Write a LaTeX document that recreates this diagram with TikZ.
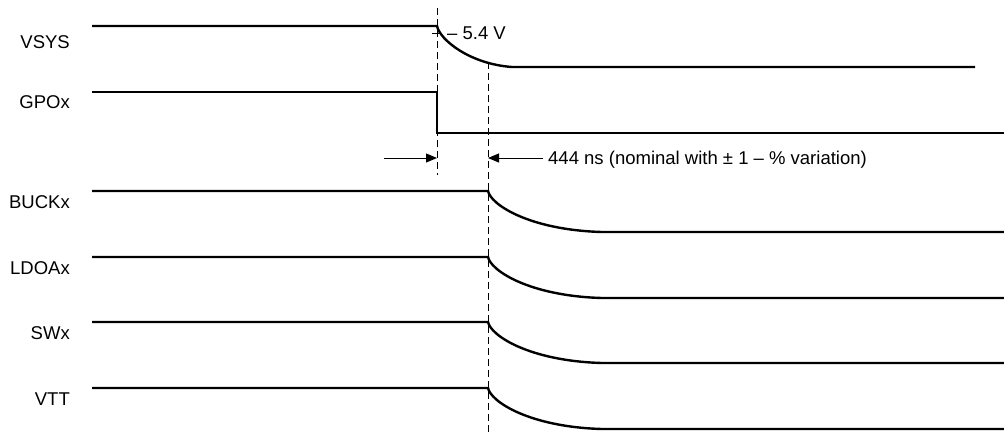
\documentclass[tikz,border=0pt]{standalone}
\usepackage{fontspec}
\setmainfont{Liberation Sans}
\usetikzlibrary{arrows.meta,calc}

\begin{document}
\begin{tikzpicture}[x=1pt, y=-1pt,
    signal/.style={line width=2.4pt},
    marker/.style={dash pattern=on 7pt off 4pt, line width=0.9pt},
    dimarrow/.style={line width=0.9pt, -{Triangle[length=11pt,width=9pt]}},
    lbl/.style={font=\fontsize{18.5}{21}\selectfont, inner sep=0pt}]
    \useasboundingbox (0,0) rectangle (1004,434);
    % time markers
    \coordinate (m0top) at (437,8);
    \coordinate (m0bot) at (437,175);
    \coordinate (m1top) at (488,62);
    \coordinate (m1bot) at (488,434);
    \draw[marker] (m0top) -- (m0bot);
    \draw[marker] (m1top) -- (m1bot);
    % VSYS falls after GPOx
    \draw[signal] (92,26) -- (437,26) .. controls (440,40) and (470,64) .. (512,67) -- (975,67);
    \node[lbl, anchor=base east] (vsys) at (70,48) {VSYS};
    \coordinate (tickl) at (432,33);
    \coordinate (tickr) at (442,33);
    \draw[line width=0.9pt] (tickl) -- (tickr);
    \node[lbl, anchor=base west] (level) at (447,39.5) {– 5.4 V};
    % GPOx
    \draw[signal] (92,92) -- (437,92) -- (437,133) -- (1004,133);
    \node[lbl, anchor=base east] (gpox) at (70,108) {GPOx};
    % delay arrows
    \coordinate (a0) at (384,158);
    \coordinate (a0tip) at (437,158);
    \coordinate (a1) at (543,158);
    \coordinate (a1tip) at (488,158);
    \draw[dimarrow] (a0) -- (a0tip);
    \draw[dimarrow] (a1) -- (a1tip);
    \node[lbl, anchor=base west] (delay) at (548,164.5) {444 ns (nominal with ± 1 – \% variation)};
    % rails
    \foreach \name/\y in {BUCKx/191, LDOAx/257, SWx/322, VTT/388} {
        \draw[signal] (92,\y) -- (488,\y) .. controls (491,\y+14) and (530,\y+39) .. (602,\y+41) -- (1004,\y+41);
        \node[lbl, anchor=base east] (\name) at (70,\y+17.5) {\name};
    }
\end{tikzpicture}
\end{document}
